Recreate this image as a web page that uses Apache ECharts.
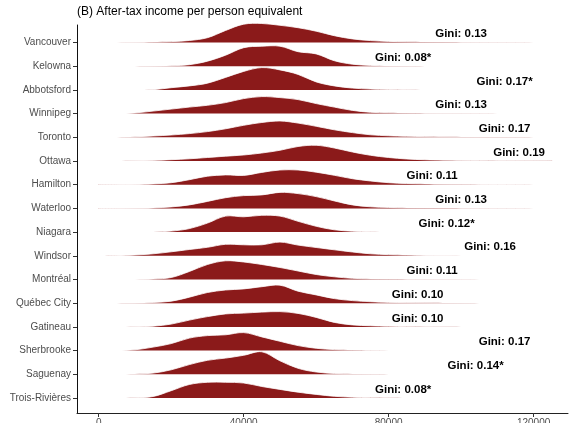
<!DOCTYPE html>
<html>
<head>
<meta charset="utf-8">
<script src="https://cdn.jsdelivr.net/npm/echarts@6/dist/echarts.min.js"></script>
<style>
  html, body { margin: 0; padding: 0; background: #ffffff; }
  #chart { width: 571px; height: 423px; }
</style>
</head>
<body>
<div id="chart"></div>
<script>
// Cities, listed from the top ridge to the bottom ridge
const cities = ['Vancouver', 'Kelowna', 'Abbotsford', 'Winnipeg', 'Toronto', 'Ottawa',
  'Hamilton', 'Waterloo', 'Niagara', 'Windsor', 'Montréal', 'Québec City', 'Gatineau',
  'Sherbrooke', 'Saguenay', 'Trois-Rivières'];

// Income grid (after-tax income per person equivalent) on which densities are evaluated
const incomeGrid = [0, 5000, 10000, 15000, 20000, 25000, 30000, 35000, 40000, 45000, 50000,
  55000, 60000, 65000, 70000, 75000, 80000, 85000, 90000, 95000, 100000, 105000, 110000,
  115000, 120000, 125000];

// Relative income density per city, one value per income grid point
const densityVancouver = [0, 0.1, 0.2, 0.4, 0.9, 2, 4.8, 12, 18.3, 19, 17.2, 14.8, 11.3, 6.8, 3.6, 1.9, 1.1, 0.7, 0.5, 0.4, 0.3, 0.25, 0.2, 0.15, 0.1, 0];
const densityKelowna = [0, 0, 0, 0.1, 0.5, 1.5, 5, 11, 18.5, 20, 20, 14.5, 12.3, 5.5, 2, 0.8, 0.3, 0.1, 0, 0, 0, 0, 0, 0, 0, 0];
const densityAbbotsford = [0, 0, 0, 0.2, 2.2, 4, 6.7, 12.5, 18.5, 22.3, 20, 15.5, 8, 4, 1.8, 0.8, 0.4, 0.2, 0, 0, 0, 0, 0, 0, 0, 0];
const densityWinnipeg = [0, 0.1, 0.7, 2.5, 4.5, 6.5, 8.3, 11, 15, 17, 16, 14, 10, 6.5, 3.2, 1.3, 0.8, 0.5, 0.4, 0.3, 0.3, 0.25, 0.2, 0.15, 0.1, 0.05];
const densityToronto = [0, 0.1, 0.5, 1.3, 2.3, 3.7, 5.7, 8.5, 12, 14.8, 16.3, 14.2, 11, 7.5, 4.7, 2.5, 1.5, 1, 0.7, 0.5, 0.4, 0.35, 0.3, 0.2, 0.15, 0.05];
const densityOttawa = [0, 0.1, 0.3, 0.6, 1.3, 2.2, 3.5, 4.8, 6, 8, 10.7, 14.5, 15.7, 13, 9, 5.7, 3.5, 2, 1.2, 0.8, 0.6, 0.45, 0.3, 0.2, 0.15, 0.05];
const densityHamilton = [0, 0.1, 0.3, 0.8, 2, 5, 8.5, 9.8, 9.3, 12.3, 14.7, 14.7, 12.5, 9.4, 6, 3.7, 2, 1.2, 0.8, 0.5, 0.4, 0.3, 0.2, 0.1, 0.05, 0];
const densityWaterloo = [0, 0.05, 0.2, 0.5, 1.5, 3.5, 7, 10.7, 12.8, 13.5, 16, 14.8, 11.8, 7.5, 3.5, 1.6, 0.9, 0.5, 0.4, 0.3, 0.2, 0.15, 0.1, 0.05, 0, 0];
const densityNiagara = [0, 0, 0, 0.1, 1, 3.5, 9, 16, 15.3, 16.8, 16, 10.8, 5.8, 2.3, 0.9, 0.4, 0.2, 0.1, 0, 0, 0, 0, 0, 0, 0, 0];
const densityWindsor = [0, 0.2, 0.8, 2, 4, 6.3, 8.5, 11.5, 11, 11, 13.7, 10.7, 8.3, 6, 3.8, 2, 1.2, 0.7, 0.4, 0.3, 0.15, 0.05, 0, 0, 0, 0];
const densityMontreal = [0, 0, 0.1, 0.5, 2, 8, 15, 18.7, 17.5, 15, 12, 8.5, 5, 2.7, 1.2, 0.6, 0.4, 0.3, 0.25, 0.2, 0.15, 0.12, 0.1, 0.08, 0.05, 0];
const densityQuebecCity = [0, 0, 0.1, 0.7, 2, 6, 10.7, 13.2, 14.3, 16.5, 18, 12, 8.3, 4.6, 2.6, 1.5, 0.8, 0.5, 0.35, 0.2, 0.1, 0, 0, 0, 0, 0];
const densityGatineau = [0, 0, 0.2, 0.7, 2.8, 6.8, 10.3, 13, 13.8, 14.8, 15.3, 13.5, 9.5, 4.5, 2, 1.1, 0.6, 0.3, 0.2, 0.1, 0, 0, 0, 0, 0, 0];
const densitySherbrooke = [0, 0, 0.8, 3.5, 7, 12.5, 15, 15.8, 18, 13.7, 9.3, 5, 2.3, 1, 0.5, 0.3, 0.15, 0, 0, 0, 0, 0, 0, 0, 0, 0];
const densitySaguenay = [0, 0, 0.2, 1.2, 4.5, 9.7, 14, 16.2, 19, 22.5, 13.5, 6, 2.3, 0.8, 0.4, 0.2, 0.1, 0, 0, 0, 0, 0, 0, 0, 0, 0];
const densityTroisRivieres = [0, 0, 0.2, 1.5, 7.3, 13.5, 15.7, 15.7, 15, 11.5, 8.6, 5.8, 3.6, 1.7, 0.8, 0.4, 0.2, 0, 0, 0, 0, 0, 0, 0, 0, 0];

// Gini coefficient per city; starred values are flagged with an asterisk
const giniValues = [0.13, 0.08, 0.17, 0.13, 0.17, 0.19, 0.11, 0.13, 0.12, 0.16, 0.11, 0.10, 0.10, 0.17, 0.14, 0.08];
const giniStarred = [false, true, true, false, false, false, false, false, true, false, false, false, false, false, true, true];
// Income at which each Gini annotation is centred
const giniLabelIncome = [100000, 84000, 112000, 100000, 112000, 116000, 92000, 100000, 96000, 108000, 92000, 88000, 88000, 112000, 104000, 84000];

// Income axis ticks
const incomeTicks = [0, 40000, 80000, 120000];

const densities = [densityVancouver, densityKelowna, densityAbbotsford, densityWinnipeg,
  densityToronto, densityOttawa, densityHamilton, densityWaterloo, densityNiagara,
  densityWindsor, densityMontreal, densityQuebecCity, densityGatineau, densitySherbrooke,
  densitySaguenay, densityTroisRivieres];

// ---- drawing ----
const FONT = '"Liberation Sans", Arial, Helvetica, sans-serif';
const RIDGE_FILL = '#8B1A1A';
const ridgeScale = 1 / 23.7;   // relative density -> rows
const labelLift = 0.36;         // annotation offset above each baseline, in rows
const SMOOTH = 0.35;
const nRows = cities.length;
const rowValues = cities.map((c, i) => nRows - i);

function giniText(i) {
  return 'Gini: ' + giniValues[i].toFixed(2) + (giniStarred[i] ? '*' : '');
}

// Ridges: drawn top to bottom, so each lower ridge overlaps the one above it
const ridgeSeries = {
  type: 'custom', name: 'ridges', silent: true, clip: false, z: 2,
  encode: { x: 0, y: 1 },
  data: cities.map((c, i) => [incomeGrid[0], nRows - i, i]),
  renderItem: function (params, api) {
    const i = api.value(2);
    const row = nRows - i;
    const pts = incomeGrid.map((x, j) => api.coord([x, row + densities[i][j] * ridgeScale]));
    const baseY = api.coord([incomeGrid[0], row])[1];
    const constraint = [[-1e6, -1e6], [1e6, baseY]];
    return {
      type: 'group',
      children: [
        {
          type: 'polygon',
          shape: { points: pts, smooth: SMOOTH, smoothConstraint: constraint },
          style: { fill: RIDGE_FILL, stroke: null }
        },
        {
          type: 'polyline',
          shape: { points: pts, smooth: SMOOTH, smoothConstraint: constraint },
          style: { fill: null, stroke: '#ffffff', lineWidth: 0.8 }
        }
      ]
    };
  }
};

const giniSeries = {
  type: 'custom', name: 'gini', silent: true, clip: false, z: 10,
  encode: { x: 0, y: 1 },
  data: cities.map((c, i) => [giniLabelIncome[i], nRows - i + labelLift, i]),
  renderItem: function (params, api) {
    const i = api.value(2);
    const p = api.coord([api.value(0), api.value(1)]);
    return {
      type: 'text', x: p[0], y: p[1],
      style: {
        text: giniText(i), fill: '#000000',
        font: 'bold 11.5px ' + FONT,
        align: 'center', verticalAlign: 'middle'
      }
    };
  }
};

const chart = echarts.init(document.getElementById('chart'), null, { renderer: 'canvas' });
chart.setOption({
  animation: false,
  backgroundColor: '#ffffff',
  title: {
    text: '(B) After-tax income per person equivalent',
    left: 77, top: 6, padding: 0,
    textStyle: { fontFamily: FONT, fontSize: 12, fontWeight: 'normal', color: '#000000' }
  },
  grid: { left: 77, right: 3, top: 25, bottom: 10, containLabel: false, outerBoundsMode: 'none' },
  xAxis: {
    type: 'value', min: -6000, max: 129500,
    axisLine: { show: true, onZero: false, lineStyle: { color: '#222222', width: 1 } },
    axisTick: { show: true, length: 4, customValues: incomeTicks, lineStyle: { color: '#333333' } },
    axisLabel: {
      customValues: incomeTicks, formatter: v => String(v),
      color: '#4d4d4d', fontSize: 10, fontFamily: FONT, margin: 5
    },
    splitLine: { show: false }
  },
  yAxis: {
    type: 'value', min: 0.367, max: 16.738,
    axisLine: { show: true, onZero: false, lineStyle: { color: '#111111', width: 1 } },
    axisTick: { show: true, length: 4, customValues: rowValues, lineStyle: { color: '#333333' } },
    axisLabel: {
      customValues: rowValues, formatter: v => cities[nRows - Math.round(v)],
      color: '#4d4d4d', fontSize: 10, fontFamily: FONT, margin: 6
    },
    splitLine: { show: false }
  },
  series: [ridgeSeries, giniSeries]
});
</script>
</body>
</html>
